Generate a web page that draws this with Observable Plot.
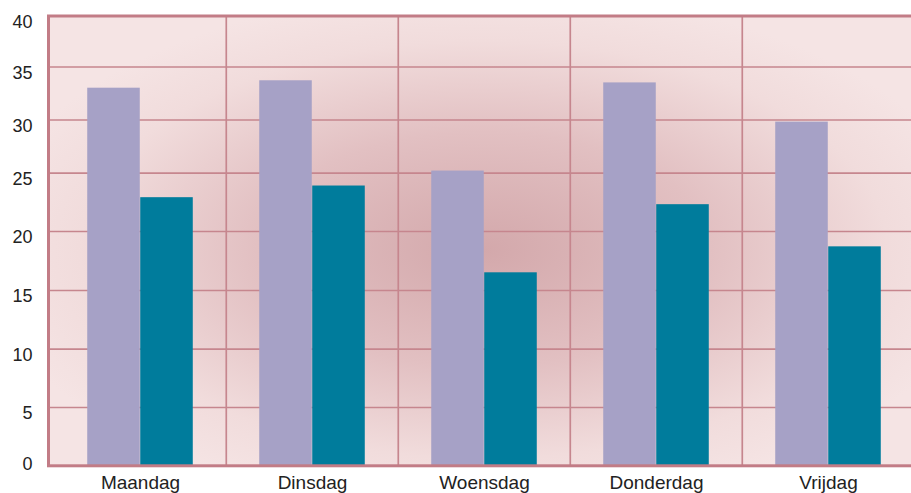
<!DOCTYPE html>
<html>
<head>
<meta charset="utf-8">
<script src="https://cdn.jsdelivr.net/npm/d3@7"></script>
<script src="https://cdn.jsdelivr.net/npm/@observablehq/plot@0.6"></script>
<style>
html, body { margin: 0; padding: 0; background: #fff; overflow: hidden; }
#chart svg g[aria-label^="x-axis"] text { font-size: 19px !important; }
#chart svg g[aria-label^="y-axis"] text { font-size: 18px !important; }
</style>
</head>
<body>
<div id="chart"></div>
<script>
// Data
const days = ["Maandag", "Dinsdag", "Woensdag", "Donderdag", "Vrijdag"];
const seriesA = [33.0, 33.7, 25.2, 33.5, 29.8];   // lavender bars
const seriesB = [22.9, 23.9, 16.5, 22.3, 18.7];   // teal bars
const yTicks = [0, 5, 10, 15, 20, 25, 30, 35, 40];

const rowsA = days.map((d, i) => ({day: d, value: seriesA[i]}));
const rowsB = days.map((d, i) => ({day: d, value: seriesB[i]}));

// The original axis is slightly non-uniform: a piecewise warp of the value axis
const warp = d3.scaleLinear()
  .domain(yTicks)
  .range([0, 5.185, 10.369, 15.589, 20.836, 26.021, 30.752, 35.465, 40]);

const W = 911, H = 493;
const xRange = [53, 915.25];
const band = (xRange[1] - xRange[0]) / days.length;
const barW = 53;
const gridColor = "#c6868e";

const svg = Plot.plot({
  width: W,
  height: H,
  marginLeft: 48,
  marginRight: -7,
  marginTop: 15.5,
  marginBottom: 27.7,
  style: {fontFamily: "'Liberation Sans', Arial, sans-serif", fontSize: "18px", color: "#222", background: "#fff"},
  x: {domain: days, range: xRange, padding: 0, tickSize: 0, tickPadding: 10, label: null},
  y: {
    domain: [0, 40],
    ticks: yTicks.map(warp),
    tickFormat: v => Math.round(warp.invert(v)),
    tickSize: 0,
    tickPadding: 16,
    label: null
  },
  marks: [
    Plot.frame({fill: "url(#bgGrad)", stroke: null}),
    Plot.ruleY(yTicks, {y: warp, stroke: gridColor, strokeWidth: 1.7}),
    Plot.ruleX(days.slice(1), {x: d => d, dx: -band / 2, stroke: gridColor, strokeWidth: 1.7}),
    Plot.barY(rowsA, {x: "day", y: d => warp(d.value), fill: "#a6a1c6", insetLeft: band / 2 - barW, insetRight: band / 2}),
    Plot.barY(rowsB, {x: "day", y: d => warp(d.value), fill: "#007c9c", insetLeft: band / 2, insetRight: band / 2 - barW}),
    Plot.frame({stroke: "#c27c86", strokeWidth: 3})
  ]
});

const defs = d3.select(svg).insert("defs", ":first-child");
const grad = defs.append("radialGradient")
  .attr("id", "bgGrad")
  .attr("cx", "0.5").attr("cy", "0.52").attr("r", "0.58");
grad.append("stop").attr("offset", "0").attr("stop-color", "#d3a8ab");
grad.append("stop").attr("offset", "0.45").attr("stop-color", "#e2c0c2");
grad.append("stop").attr("offset", "0.8").attr("stop-color", "#f1dcdc");
grad.append("stop").attr("offset", "1").attr("stop-color", "#f5e4e4");

const yText = d3.select(svg).selectAll('g[aria-label^="y-axis"] text');
yText.attr("dy", "0.32em");
yText.filter(function() { return this.textContent === "0"; }).attr("dy", "-0.1em");

document.getElementById("chart").appendChild(svg);
</script>
</body>
</html>
